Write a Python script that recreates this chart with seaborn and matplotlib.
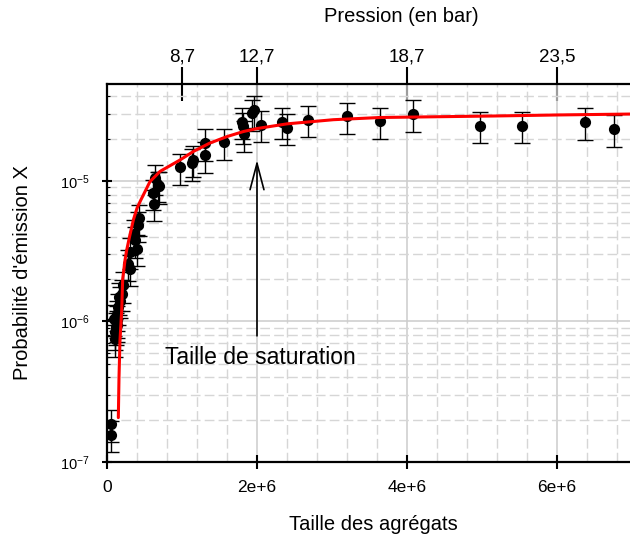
import matplotlib
matplotlib.use("Agg")
import matplotlib.pyplot as plt
import matplotlib.ticker as mticker
import numpy as np
import pandas as pd
import seaborn as sns

# ---- data ----
size_pts = [0.053e6, 0.053e6,
            0.100e6, 0.107e6, 0.107e6, 0.120e6, 0.129e6, 0.138e6, 0.140e6, 0.151e6, 0.160e6, 0.173e6, 0.196e6, 0.218e6,
            0.284e6, 0.307e6, 0.307e6, 0.360e6, 0.373e6, 0.395e6, 0.409e6, 0.431e6,
            0.617e6, 0.627e6, 0.640e6, 0.684e6, 0.700e6,
            0.973e6, 1.14e6, 1.15e6, 1.31e6, 1.31e6, 1.56e6,
            1.80e6, 1.81e6, 1.83e6, 1.94e6, 1.96e6, 2.05e6,
            2.34e6, 2.40e6, 2.68e6, 3.20e6, 3.64e6, 4.08e6, 4.97e6, 5.53e6, 6.38e6, 6.76e6]
proba_pts = [1.86e-7, 1.56e-7,
             1.05e-6, 7.5e-7, 8.4e-7, 9.1e-7, 1.02e-6, 1.13e-6, 9.5e-7, 1.26e-6, 1.50e-6, 1.41e-6, 1.58e-6, 1.81e-6,
             2.58e-6, 2.38e-6, 3.13e-6, 4.2e-6, 3.79e-6, 3.3e-6, 4.85e-6, 5.42e-6,
             8.17e-6, 6.9e-6, 1.05e-5, 9.36e-6, 9.2e-6,
             1.25e-5, 1.34e-5, 1.42e-5, 1.86e-5, 1.52e-5, 1.88e-5,
             2.65e-5, 2.45e-5, 2.15e-5, 3.04e-5, 3.2e-5, 2.51e-5,
             2.65e-5, 2.40e-5, 2.73e-5, 2.88e-5, 2.66e-5, 2.99e-5, 2.47e-5, 2.47e-5, 2.63e-5, 2.34e-5]
proba_err = [4.7e-8, 3.9e-8,
             2.6e-7, 1.9e-7, 2.1e-7, 2.3e-7, 2.6e-7, 2.8e-7, 2.4e-7, 3.2e-7, 3.8e-7, 3.5e-7, 4.0e-7, 4.5e-7,
             6.5e-7, 6.0e-7, 7.8e-7, 1.05e-6, 9.5e-7, 8.3e-7, 1.2e-6, 1.35e-6,
             2.0e-6, 1.7e-6, 2.6e-6, 2.3e-6, 2.3e-6,
             3.1e-6, 3.4e-6, 3.6e-6, 4.7e-6, 3.8e-6, 4.7e-6,
             6.6e-6, 6.1e-6, 5.4e-6, 7.6e-6, 8.0e-6, 6.3e-6,
             6.6e-6, 6.0e-6, 6.8e-6, 7.2e-6, 6.6e-6, 7.5e-6, 6.2e-6, 6.2e-6, 6.6e-6, 5.9e-6]

fit_size = [0.151e6, 0.160e6, 0.173e6, 0.196e6, 0.209e6, 0.240e6, 0.262e6, 0.300e6, 0.351e6, 0.400e6,
            0.450e6, 0.573e6, 0.707e6, 0.973e6, 1.15e6, 1.37e6, 1.60e6, 1.82e6, 2.00e6, 2.17e6,
            2.40e6, 3.02e6, 3.64e6, 4.50e6, 5.15e6, 6.00e6, 7.10e6]
fit_proba = [2.07e-7, 4.0e-7, 7.3e-7, 1.2e-6, 2.0e-6, 2.73e-6, 3.21e-6, 4.0e-6, 5.27e-6, 6.4e-6,
             7.3e-6, 9.9e-6, 1.17e-5, 1.41e-5, 1.62e-5, 1.86e-5, 2.07e-5, 2.25e-5, 2.36e-5, 2.44e-5,
             2.55e-5, 2.73e-5, 2.83e-5, 2.87e-5, 2.90e-5, 2.95e-5, 3.0e-5]

x_ticks = [0, 2e6, 4e6, 6e6]
x_ticklabels = ["0", "2e+6", "4e+6", "6e+6"]
y_ticks = [1e-7, 1e-6, 1e-5]
press_ticks = [1e6, 2e6, 4e6, 6e6]
press_labels = ["8,7", "12,7", "18,7", "23,5"]

pts = pd.DataFrame({"taille": size_pts, "proba": proba_pts, "err": proba_err})
fit = pd.DataFrame({"taille": fit_size, "proba": fit_proba})

# ---- style ----
sns.set_theme(style="white")
plt.rcParams["font.family"] = ["Liberation Sans", "DejaVu Sans"]
plt.rcParams["mathtext.fontset"] = "custom"
plt.rcParams["mathtext.rm"] = "Liberation Sans"
plt.rcParams["mathtext.it"] = "Liberation Sans"
plt.rcParams["mathtext.bf"] = "Liberation Sans"
for key in ["text.color", "axes.labelcolor", "xtick.color", "ytick.color",
            "xtick.labelcolor", "ytick.labelcolor"]:
    plt.rcParams[key] = "black"

fig = plt.figure(figsize=(6.3, 5.4), dpi=100)
ax = fig.add_axes([107 / 630, 78 / 540, (640 - 107) / 630, 378 / 540])

ax.set_yscale("log")
ax.set_xlim(0, 7.107e6)
ax.set_ylim(1e-7, 4.9e-5)

# grid
ax.xaxis.set_minor_locator(mticker.MultipleLocator(4e5))
ax.yaxis.set_minor_locator(mticker.LogLocator(base=10, subs=np.arange(2, 10)))
ax.yaxis.set_minor_formatter(mticker.NullFormatter())
ax.grid(which="major", color="#cccccc", lw=1.1, ls="-", zorder=0)
ax.grid(which="minor", color="#d6d6d6", lw=1.0, ls=(0, (7, 3)), zorder=0)
ax.set_axisbelow(True)

# error bars + points
ax.errorbar(pts["taille"], pts["proba"], yerr=pts["err"], fmt="none", ecolor="black",
            elinewidth=1.0, capsize=5.5, capthick=1.0, zorder=2)
sns.scatterplot(data=pts, x="taille", y="proba", color="black", s=65, edgecolor="black",
                linewidth=0, ax=ax, zorder=3)
sns.lineplot(data=fit, x="taille", y="proba", color="red", lw=2.2, sort=False,
             estimator=None, ax=ax, zorder=4)

# ticks
ax.set_xticks(x_ticks)
ax.set_xticklabels(x_ticklabels)
ax.set_yticks(y_ticks)
ax.tick_params(axis="x", which="major", direction="inout", length=10, width=1.5,
               labelsize=12.5, pad=8, color="black", bottom=True)
ax.tick_params(axis="x", which="minor", length=0)
ax.tick_params(axis="y", which="major", direction="inout", length=7, width=1.5,
               labelsize=10.5, pad=9, color="black", left=True)
ax.tick_params(axis="y", which="minor", direction="in", length=2.5, width=0.8, color="black", left=True)

for side in ["left", "bottom", "top"]:
    ax.spines[side].set_visible(True)
    ax.spines[side].set_color("black")
    ax.spines[side].set_linewidth(1.6)
ax.spines["right"].set_visible(False)

ax.set_xlabel("Taille des agrégats", fontsize=14.5, labelpad=14)
ax.set_ylabel("Probabilité d'émission X", fontsize=14.5, labelpad=20)

# top axis
top = ax.secondary_xaxis("top")
top.set_xticks(press_ticks)
top.set_xticklabels(press_labels)
top.tick_params(direction="inout", length=24, width=1.5, labelsize=13.5, pad=1, color="black")
top.spines["top"].set_visible(False)
fig.text(401 / 630, 1 - 17 / 540, "Pression (en bar)", ha="center", va="center", fontsize=14.5)

# annotation
ax.annotate("", xy=(2e6, 1.41e-5), xytext=(2e6, 7.9e-7),
            arrowprops=dict(arrowstyle="->,head_length=1.9,head_width=0.5", color="black",
                            lw=1.2, shrinkA=0, shrinkB=0, mutation_scale=10), zorder=5)
ax.text(0.773e6, 5.53e-7, "Taille de saturation", fontsize=16.5, ha="left", va="center", zorder=5)

fig.savefig("out.png", dpi=100)
